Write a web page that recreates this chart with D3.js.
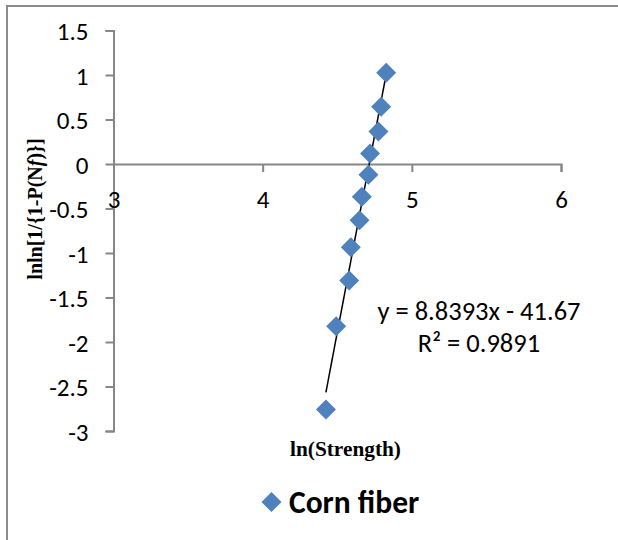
<!DOCTYPE html>
<html>
<head>
<meta charset="utf-8">
<script src="https://cdn.jsdelivr.net/npm/d3@7"></script>
<style>
  body { margin: 0; background: #fff; }
  svg { display: block; }
  .axis path, .axis line { stroke: #868686; stroke-width: 2; }
</style>
</head>
<body>
<div id="chart"></div>
<script>
// Weibull plot of corn fiber strength
const lnStrength = [4.424, 4.493, 4.580, 4.591, 4.649, 4.665, 4.709, 4.720, 4.776, 4.794, 4.828];
const lnlnP = [-2.758, -1.823, -1.308, -0.935, -0.632, -0.367, -0.121, 0.118, 0.365, 0.643, 1.026];
const xTicks = [3, 4, 5, 6];
const yTicks = [-3, -2.5, -2, -1.5, -1, -0.5, 0, 0.5, 1, 1.5];
const seriesName = 'Corn fiber';
const trendSlope = 8.8393;
const trendIntercept = -41.67;
const trendR2 = 0.9891;

const width = 618;
const height = 540;
const color = '#4F81BD';
const sans = 'Carlito, Calibri, Lato, sans-serif';
const serif = '"Liberation Serif", "Times New Roman", serif';

const svg = d3.select('#chart')
  .append('svg')
  .attr('width', width)
  .attr('height', height);

// outer frame
svg.append('path')
  .attr('d', `M7,${height}V6H${width}`)
  .attr('fill', 'none')
  .attr('stroke', '#8c8c8c')
  .attr('stroke-width', 2);

const xScale = d3.scaleLinear()
  .domain([3, 6])
  .range([113.5, 561]);

const yScale = d3.scaleLinear()
  .domain([-3, 1.5])
  .range([431, 30.5]);

const fmt = (d) => String(d);

// y axis
const yAxis = svg.append('g')
  .attr('class', 'axis')
  .attr('transform', `translate(${xScale(3)}, 0)`)
  .call(d3.axisLeft(yScale)
    .tickValues(yTicks)
    .tickSize(8)
    .tickPadding(17)
    .tickFormat(fmt));
yAxis.selectAll('.tick text')
  .attr('font-family', sans)
  .attr('font-size', 25)
  .attr('dy', '0.36em')
  .attr('fill', '#000');

// x axis crosses at y = 0
const xAxis = svg.append('g')
  .attr('class', 'axis')
  .attr('transform', `translate(0, ${yScale(0)})`)
  .call(d3.axisBottom(xScale)
    .tickValues(xTicks)
    .tickSize(8)
    .tickFormat(fmt));
xAxis.selectAll('.tick text')
  .attr('font-family', sans)
  .attr('font-size', 25)
  .attr('y', 35)
  .attr('dy', '0.36em')
  .attr('fill', '#000');
svg.selectAll('.axis .domain').attr('fill', 'none');

// trendline over data range
const xExt = d3.extent(lnStrength);
svg.append('line')
  .attr('x1', xScale(xExt[0]))
  .attr('y1', yScale(trendSlope * xExt[0] + trendIntercept))
  .attr('x2', xScale(xExt[1]))
  .attr('y2', yScale(trendSlope * xExt[1] + trendIntercept))
  .attr('stroke', '#000')
  .attr('stroke-width', 1.5);

// points
const diamond = d3.symbol().type(d3.symbolSquare).size(200);
svg.append('g')
  .selectAll('path')
  .data(lnStrength.map((x, i) => ({x: x, y: lnlnP[i]})))
  .enter()
  .append('path')
  .attr('d', diamond)
  .attr('fill', color)
  .attr('transform', (d) => `translate(${xScale(d.x)}, ${yScale(d.y)}) rotate(45)`);

// trendline label
const eq = svg.append('text')
  .attr('font-family', sans)
  .attr('font-size', 26.5)
  .attr('text-anchor', 'middle')
  .attr('fill', '#000');
eq.append('tspan')
  .attr('x', 479)
  .attr('y', 320)
  .text(`y = ${trendSlope}x - ${Math.abs(trendIntercept)}`);
eq.append('tspan')
  .attr('x', 479)
  .attr('y', 352)
  .text(`R² = ${trendR2}`);

// axis titles
svg.append('text')
  .attr('x', 345.5)
  .attr('y', 456)
  .attr('text-anchor', 'middle')
  .attr('font-family', serif)
  .attr('font-weight', 'bold')
  .attr('font-size', 21.3)
  .text('ln(Strength)');

const yTitle = svg.append('text')
  .attr('transform', 'translate(42, 209) rotate(-90)')
  .attr('text-anchor', 'middle')
  .attr('font-family', serif)
  .attr('font-weight', 'bold')
  .attr('font-size', 20);
yTitle.append('tspan').text('lnln[1/{1-P(N');
yTitle.append('tspan').attr('font-style', 'italic').text('f');
yTitle.append('tspan').text(')}]');

// legend
const legend = svg.append('g')
  .attr('transform', 'translate(271.5, 502)');
legend.append('path')
  .attr('d', diamond)
  .attr('fill', color)
  .attr('transform', 'rotate(45)');
legend.append('text')
  .attr('x', 17.5)
  .attr('y', 10.5)
  .attr('font-family', sans)
  .attr('font-weight', 'bold')
  .attr('font-size', 31.5)
  .text(seriesName);
</script>
</body>
</html>
